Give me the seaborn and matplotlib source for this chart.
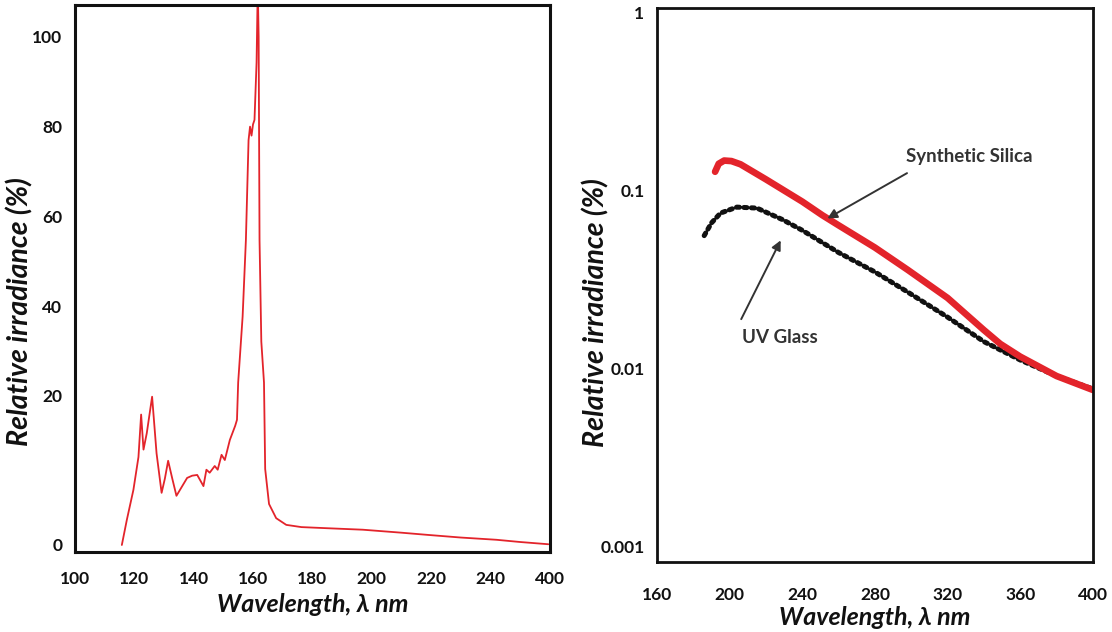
import numpy as np
import pandas as pd
import matplotlib
matplotlib.use("Agg")
import matplotlib.pyplot as plt
import seaborn as sns

# ---------------- data ----------------
# left panel: emission spectrum (x position 260 is labelled "400" on the broken axis)
spec_wl = [115.8, 117.5, 119.7, 121.4, 122.3, 123.1, 124.2, 126.0, 127.5, 129.2,
           130.3, 131.4, 132.8, 134.2, 136.0, 137.8, 139.5, 141.2, 143.3, 144.3,
           145.4, 147.1, 148.1, 149.4, 150.5, 152.2, 154.0, 154.6, 155.0, 156.5,
           157.6, 158.5, 159.0, 159.5, 160.0, 160.5, 161.2, 161.6, 161.9, 162.2,
           162.8, 163.7, 164.1, 165.4, 167.8, 171.2, 176.3, 185.0, 197.0, 210.0,
           219.0, 230.0, 242.0, 250.0, 259.5]
spec_irr = [0.0, 3.4, 7.4, 11.8, 17.5, 12.8, 15.0, 19.9, 12.3, 7.0,
            8.9, 11.3, 8.9, 6.6, 7.8, 9.0, 9.3, 9.4, 7.9, 10.1,
            9.7, 10.6, 10.1, 12.1, 11.4, 14.1, 16.0, 16.8, 23.0, 37.7,
            54.7, 77.0, 80.0, 78.0, 80.5, 81.5, 94.3, 111.0, 100.0, 54.7,
            32.1, 23.0, 10.2, 5.5, 3.6, 2.7, 2.4, 2.25, 2.05, 1.65,
            1.35, 1.0, 0.7, 0.4, 0.1]

# right panel: transmitted irradiance
silica_wl = [192, 194, 197, 201, 206, 220, 240, 251, 260, 280, 298, 320, 340, 349, 360, 380, 400]
silica_irr = [0.128, 0.142, 0.148, 0.147, 0.141, 0.116, 0.087, 0.073, 0.064, 0.048, 0.036,
              0.025, 0.0165, 0.0138, 0.0117, 0.0091, 0.0076]
uvglass_wl = [186, 190, 195, 204, 215, 229, 240, 260, 280, 298, 320, 340, 360, 380, 400]
uvglass_irr = [0.056, 0.066, 0.075, 0.081, 0.080, 0.069, 0.060, 0.045, 0.035, 0.027,
               0.0195, 0.0142, 0.0112, 0.0091, 0.0077]

left_xticks = [100, 120, 140, 160, 180, 200, 220, 240, 260]
left_xlabels = ["100", "120", "140", "160", "180", "200", "220", "240", "400"]
left_yticks = [0, 20, 40, 60, 80, 100]
right_xticks = [160, 200, 240, 280, 320, 360, 400]
right_yticks = [0.001, 0.01, 0.1, 1]
right_ylabels = ["0.001", "0.01", "0.1", "1"]

# ---------------- style ----------------
sns.set_theme(style="white")
plt.rcParams['font.family'] = ['Lato', 'DejaVu Sans']

RED = "#e3242b"
INK = "#111111"
fig = plt.figure(figsize=(11.12, 6.32), dpi=100)
ax1 = fig.add_axes([0.0674, 0.1266, 0.427, 0.8655])
ax2 = fig.add_axes([0.5908, 0.1108, 0.392, 0.877])

# the original left axis is drawn with a stretched 0-20 segment
def _fwd(v):
    v = np.asarray(v, dtype=float)
    return np.where(v < 20, v * 7.45, 149.0 + (v - 20) * 4.4875)

def _inv(u):
    u = np.asarray(u, dtype=float)
    return np.where(u < 149.0, u / 7.45, 20 + (u - 149.0) / 4.4875)

# ---- left ----
df_spec = pd.DataFrame({"wl": spec_wl, "irr": spec_irr})
ax1.set_yscale("function", functions=(_fwd, _inv))
sns.lineplot(data=df_spec, x="wl", y="irr", ax=ax1, color=RED, lw=1.3,
             estimator=None, sort=False)
ax1.set_xlim(100, 259.5)
ax1.set_ylim(-0.94, 107.1)
ax1.set_xticks(left_xticks)
ax1.set_xticklabels(left_xlabels)
ax1.set_yticks(left_yticks)
ax1.set_yticklabels([str(t) for t in left_yticks])
ax1.yaxis.set_minor_locator(matplotlib.ticker.NullLocator())
ax1.tick_params(axis="both", length=0, labelsize=12.5, colors=INK)
ax1.tick_params(axis="x", pad=14)
ax1.tick_params(axis="y", pad=9)
for lab in ax1.get_xticklabels() + ax1.get_yticklabels():
    lab.set_fontweight("bold")
ax1.set_xlabel("Wavelength, λ nm", fontsize=18, fontstyle="italic", fontweight="bold",
               color=INK, labelpad=4)
ax1.set_ylabel("Relative irradiance (%)", fontsize=20.5, fontstyle="italic", fontweight="bold",
               color=INK)
ax1.yaxis.set_label_coords(-0.088, 0.44)
for s in ax1.spines.values():
    s.set_color(INK)
    s.set_linewidth(2.2)

# ---- right ----
df_sil = pd.DataFrame({"wl": silica_wl, "irr": silica_irr})
df_uv = pd.DataFrame({"wl": uvglass_wl, "irr": uvglass_irr})
sns.lineplot(data=df_uv, x="wl", y="irr", ax=ax2, color=INK, lw=3.6,
             estimator=None, linestyle=(0, (0.6, 0.9)), dash_capstyle="round")
sns.lineplot(data=df_sil, x="wl", y="irr", ax=ax2, color=RED, lw=4.8,
             estimator=None, solid_capstyle="round")
ax2.set_yscale("log")
ax2.set_xlim(160, 400)
ax2.set_ylim(0.00082, 1.07)
ax2.set_xticks(right_xticks)
ax2.set_yticks(right_yticks)
ax2.set_yticklabels(right_ylabels)
ax2.yaxis.set_minor_locator(matplotlib.ticker.NullLocator())
ax2.tick_params(axis="x", direction="in", length=7, width=1.5, color=INK,
                labelsize=12.5, pad=18, labelcolor=INK)
ax2.tick_params(axis="y", length=0, labelsize=12.5, pad=9, labelcolor=INK)
for lab in ax2.get_xticklabels() + ax2.get_yticklabels():
    lab.set_fontweight("bold")
ax2.set_xlabel("Wavelength, λ nm", fontsize=18, fontstyle="italic", fontweight="bold",
               color=INK, labelpad=2)
ax2.set_ylabel("Relative irradiance (%)", fontsize=20.5, fontstyle="italic", fontweight="bold",
               color=INK)
ax2.yaxis.set_label_coords(-0.11, 0.45)
for s in ax2.spines.values():
    s.set_color(INK)
    s.set_linewidth(2.0)

ax2.text(332, 0.155, "Synthetic Silica", fontsize=13.5, fontweight="bold",
         color="#333333", ha="center", va="center")
ax2.annotate("", xy=(252.5, 0.0687), xytext=(299, 0.128),
             arrowprops=dict(arrowstyle="-|>", color="#333333", lw=1.4, mutation_scale=14))
ax2.text(227.7, 0.0149, "UV Glass", fontsize=13.5, fontweight="bold",
         color="#333333", ha="center", va="center")
ax2.annotate("", xy=(228.8, 0.0544), xytext=(205.7, 0.0184),
             arrowprops=dict(arrowstyle="-|>", color="#333333", lw=1.4, mutation_scale=14))

fig.savefig("out.png", dpi=100)
